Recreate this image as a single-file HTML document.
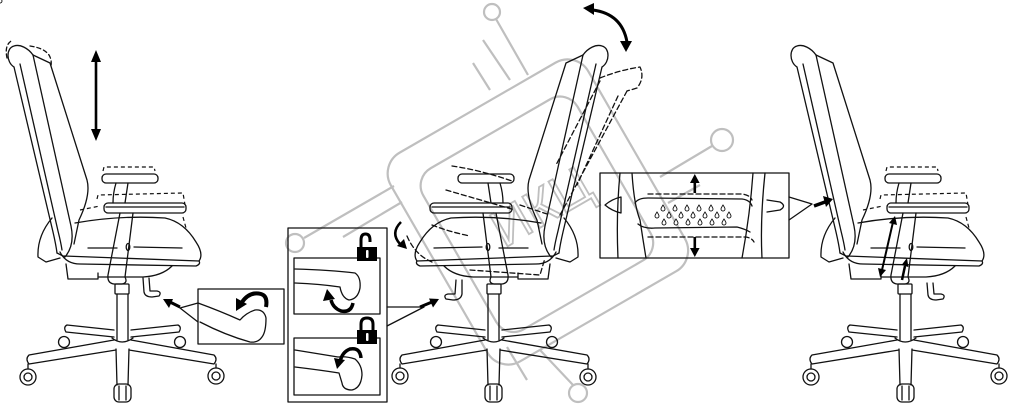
<!DOCTYPE html>
<html><head><meta charset="utf-8"><style>
html,body{margin:0;padding:0;background:#fff;}
svg{display:block;}
</style></head><body>
<svg width="1016" height="408" viewBox="0 0 1016 408" xmlns="http://www.w3.org/2000/svg">
<defs>
<g id="chair" fill="none" stroke="#111" stroke-width="1.3" stroke-linejoin="round" stroke-linecap="round">
 <path d="M14,67 C6,62 6,48 14,46 C20,44 28,48 33,55"/>
 <path d="M14,67 L53,232 Q56,245 57,253"/>
 <path d="M20,64 L58,231 Q61,243 62,250"/>
 <path d="M33,55 L71,226 Q75,245 65,257 L57,253"/>
 <path d="M33,55 L50,63 L87,180 Q91,195 79,220 L74,244"/>
 <path d="M52,218 Q37,236 38,257 L46,262 L60,258"/>
 <path d="M75,223 Q120,215 165,218 Q184,222 196,242 Q204,254 199,261 L64,256"/>
 <path d="M60,252 Q66,264 80,264 L196,266 Q201,264 199,261"/>
 <path d="M88,248 L117,248 M134,247 L182,248"/>
 <path d="M66,264 L68,279 L98,279 L98,273 M98,277 L143,277 Q162,276 172,266"/>
 <path d="M120,213 L108,275 Q107,283 114,284 L122,284 Q128,283 125,277 L133,213"/>
 <ellipse cx="128" cy="247" rx="1.8" ry="3.5"/>
 <rect x="104" y="203" width="82" height="10" rx="4"/>
 <path d="M106,207 L184,207"/>
 <rect x="102" y="174" width="56" height="9" rx="4"/>
 <path d="M116,183 Q113,193 113,203 M128,183 L125,203"/>
 <rect x="115" y="284" width="14" height="10" rx="1"/>
 <path d="M117,294 L117,340 M128,294 L128,340"/>
 <path d="M114,330 L67,325 Q63,327 66,332 L114,337"/>
 <path d="M131,330 L178,325 Q182,327 179,332 L131,337"/>
 <path d="M114,340 L29,355 Q25,359 29,364 L116,350"/>
 <path d="M131,340 L214,355 Q218,359 214,364 L129,350"/>
 <path d="M112,338 Q122,346 133,338"/>
 <path d="M116,349 L117,385 M129,349 L128,385"/>
 <circle cx="28" cy="377" r="8"/><circle cx="28" cy="377" r="4"/><path d="M28,364 L28,369"/>
 <circle cx="216" cy="376" r="8"/><circle cx="216" cy="376" r="4"/><path d="M216,364 L216,368"/>
 <rect x="114" y="384" width="17" height="18" rx="5"/><path d="M119,386 L119,400 M126,386 L126,400"/>
 <circle cx="64" cy="342" r="5.5"/><circle cx="180" cy="342" r="5.5"/>
</g>
<g id="armdash" fill="none" stroke="#111" stroke-width="1.2" stroke-dasharray="4 3">
 <path d="M103,171 L104,167 L154,167 L155,171"/>
 <path d="M97,199 L98,195 L183,193 L185,205"/>
 <path d="M183,217 L186,228"/>
 <path d="M80,210 L100,206"/>
</g>
</defs>

<!-- watermark -->
<g fill="none" stroke="#bfbfbf" stroke-width="2.2">
 <g transform="translate(535,205) rotate(-30)">
  <rect x="-115" y="-113" width="228" height="241" rx="24"/>
  <rect x="-92" y="-84" width="178" height="186" rx="20"/>
 </g>
 <circle cx="492" cy="12" r="8"/>
 <path d="M496,19 L528,75 M483,40 L510,80 M473,63 L490,90"/>
 <circle cx="295" cy="243" r="9"/>
 <path d="M304,238 L394,186 M343,237 L402,202"/>
 <circle cx="578" cy="393" r="9"/>
 <path d="M573,385 L540,350 M507,347 L527,380"/>
 <circle cx="722" cy="140" r="11"/>
 <path d="M712,146 L660,177 M700,185 L668,203"/>
 <text transform="translate(550,222) rotate(-30)" text-anchor="middle" font-size="52" font-family="Liberation Sans, sans-serif" fill="none" stroke="#bfbfbf" stroke-width="1.8">ИКЦ</text>
</g>

<!-- chairs -->
<use href="#chair"/>
<use href="#armdash"/>
<use href="#chair" transform="translate(616,0) scale(-1,1)"/>
<use href="#chair" transform="translate(783,0)"/>
<use href="#armdash" transform="translate(783,0)"/>

<g fill="none" stroke="#111" stroke-width="1.3" stroke-linejoin="round" stroke-linecap="round">
 <!-- left chair extras -->
 <path d="M7,58 Q4,44 13,40 M30,46 Q44,48 49,55 Q52,60 51,66" stroke-dasharray="4 3"/>
 <path d="M143,278 L144,292 Q145,297 152,297 L159,296 Q162,292 157,291 L150,291 L149,278"/>
 <!-- callout 1 -->
 <rect x="198" y="289" width="86" height="55"/>
 <path d="M198,303 L180,308 L198,322"/>
 <path d="M198,303 Q220,311 240,320 Q246,313 255,310 Q264,309 266,318 Q266,332 262,337 Q258,343 250,342 Q225,335 200,322"/>
 <!-- right chair lever -->
 <path d="M927,283 L928,295 Q929,300 936,300 L943,299 Q946,295 941,294 L934,294 L933,283"/>
 <!-- middle lever -->
 <path d="M462,280 L462,294 Q461,300 453,300 L446,299 Q443,295 448,294 L455,294 L456,280"/>
 <!-- middle dashed recline -->
 <g stroke-dasharray="5 3">
  <path d="M600,78 Q620,70 640,67 Q645,78 637,88 L627,91"/>
  <path d="M627,91 L560,215 M600,81 L556,165 M618,96 L577,185"/>
  <path d="M452,166 Q480,170 512,181 M446,190 L515,210 M407,236 Q415,255 432,262 M470,270 L540,275 L545,258 M520,205 L550,215 M432,225 Q450,232 470,236"/>
 </g>
 <!-- lock box -->
 <rect x="288" y="228" width="99" height="174"/>
 <rect x="294" y="258" width="86" height="56"/>
 <rect x="294" y="338" width="86" height="57"/>
 <path d="M387,307 L420,307 M387,326 L424,307"/>
 <path d="M295,269 Q330,270 355,273 Q361,277 360,288 Q358,299 349,300 Q342,298 340,287 Q320,284 295,283"/>
 <path d="M295,350 Q320,354 338,357 Q346,356 355,359 Q362,365 362,375 Q361,388 352,390 Q343,390 342,383 L339,373 Q320,370 295,367"/>
 <!-- lumbar box -->
 <rect x="600" y="173" width="189" height="85"/>
 <path d="M620,173 Q616,215 618,258 M632,173 Q634,205 640,220 Q643,240 646,258 M753,173 Q750,215 742,258 M765,173 Q760,220 762,258"/>
 <path d="M605,205 Q612,199 621,197 L621,213 Q612,211 605,205 Z"/>
 <path d="M767,200 L780,202 Q787,206 780,210 L767,212"/>
 <path d="M635,203 Q638,198 648,198 L742,199 Q750,200 752,206 M638,224 Q644,229 655,228 L737,227 Q745,229 750,232"/>
 <path d="M648,194 L742,194 Q750,195 752,200 M648,237 L746,237 Q752,238 754,242" stroke-dasharray="5 3"/>
 <path d="M789,197 L812,204 M789,220 L812,204"/>
</g>

<!-- droplets -->
<g fill="#fff" stroke="#111" stroke-width="0.9">
 <g id="drop"><path d="M0,-3 Q2,0 2,1 A2,2 0 1 1 -2,1 Q-2,0 0,-3 Z"/></g>
 <use href="#drop" x="663" y="208"/><use href="#drop" x="675" y="208"/><use href="#drop" x="687" y="208"/><use href="#drop" x="699" y="208"/><use href="#drop" x="711" y="208"/><use href="#drop" x="723" y="208"/>
 <use href="#drop" x="657" y="215"/><use href="#drop" x="669" y="215"/><use href="#drop" x="681" y="215"/><use href="#drop" x="693" y="215"/><use href="#drop" x="705" y="215"/><use href="#drop" x="717" y="215"/><use href="#drop" x="729" y="215"/>
 <use href="#drop" x="664" y="222"/><use href="#drop" x="676" y="222"/><use href="#drop" x="688" y="222"/><use href="#drop" x="700" y="222"/><use href="#drop" x="712" y="222"/><use href="#drop" x="724" y="222"/>
</g>

<!-- black arrows -->
<g fill="#000" stroke="none">
 <rect x="94.7" y="60" width="2.6" height="71"/>
 <polygon points="96,50 91,62 101,62"/>
 <polygon points="96,141 91,129 101,129"/>
 <polygon points="163,299 173,299 169,308"/>
 <path d="M170,302 L180,307" stroke="#000" stroke-width="3"/>
 <path d="M266,307 Q268,296 261,294 Q250,291 242,302" fill="none" stroke="#000" stroke-width="4"/>
 <polygon points="236,311 236,298 247,304"/>
 <path d="M420,307 L432,302" stroke="#000" stroke-width="3"/>
 <polygon points="439,299 433,307.5 429,298.5"/>
 <path d="M361,248 L361,240 Q361,234 365.5,234 Q370,234 370,240 L370,242" fill="none" stroke="#000" stroke-width="3"/>
 <rect x="357" y="247" width="20" height="14"/>
 <path d="M361,331 L361,324 Q361,318 367,318 Q373,318 373,324 L373,331" fill="none" stroke="#000" stroke-width="3"/>
 <rect x="357" y="330" width="20" height="14"/>
 <path d="M353,303 Q351,313 341,311 Q333,308 331,300" fill="none" stroke="#000" stroke-width="3.5"/>
 <polygon points="327,289 323,301 335,299"/>
 <path d="M361,358 Q360,347 350,349 Q342,352 340,362" fill="none" stroke="#000" stroke-width="3.5"/>
 <polygon points="337,369 334,358 345,360"/>
 <path d="M593,10 Q622,14 627,42" fill="none" stroke="#000" stroke-width="3"/>
 <polygon points="583,8 594,3 594,15"/>
 <polygon points="626,52 620,41 632,41"/>
 <path d="M401,222 Q390,233 400,244" fill="none" stroke="#000" stroke-width="2.5"/>
 <polygon points="407,249 397,246 404,239"/>
 <rect x="693.5" y="181" width="2.6" height="12"/>
 <polygon points="694.8,174 690,183 699.6,183"/>
 <rect x="693.5" y="237" width="2.6" height="12"/>
 <polygon points="694.8,257 690,248 699.6,248"/>
 <path d="M814,206 L825,202" stroke="#000" stroke-width="3.5"/>
 <polygon points="833,199 823,196 826,207"/>
 <path d="M882,270 L893,222" stroke="#000" stroke-width="2"/>
 <polygon points="895,216 897,225 889,223"/>
 <polygon points="880,277 878,268 886,270"/>
 <path d="M902,280 L905,266" stroke="#000" stroke-width="2.5"/>
 <polygon points="907,258 908.4,267 901.6,265"/>
</g>
<g fill="#fff">
 <rect x="366" y="250" width="2.5" height="8" rx="1"/>
 <rect x="366" y="333" width="2.5" height="8" rx="1"/>
</g>
</svg>
</body></html>
